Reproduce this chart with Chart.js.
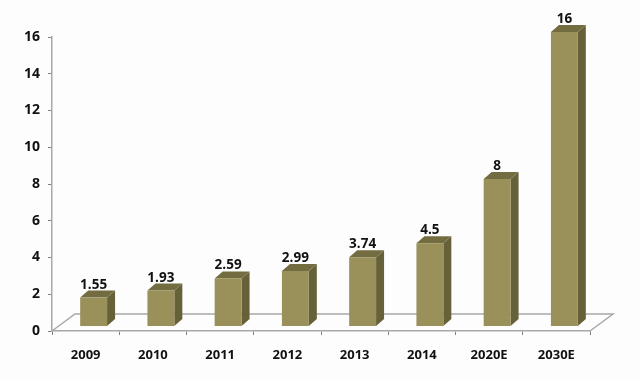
<!doctype html>
<html>

<head>
	<title>3D Bar Chart</title>
	<script src="https://cdn.jsdelivr.net/npm/chart.js@4"></script>
	<style>
		html, body { margin: 0; padding: 0; background: #fdfdfd; }
		#wrap { width: 640px; height: 379px; }
	</style>
</head>

<body>
	<div id="wrap"><canvas id="canvas"></canvas></div>
	<script>
		var categories = ['2009', '2010', '2011', '2012', '2013', '2014', '2020E', '2030E'];
		var values = [1.55, 1.93, 2.59, 2.99, 3.74, 4.5, 8, 16];
		var yTicks = [0, 2, 4, 6, 8, 10, 12, 14, 16];

		// bars stand on the floor, slightly above the value axis zero
		var floorLift = 0.27;
		var depthX = 8;
		var depthY = 7;

		var font = '"Open Sans", sans-serif';

		function poly(ctx, pts, fill) {
			ctx.beginPath();
			ctx.moveTo(pts[0][0], pts[0][1]);
			for (var i = 1; i < pts.length; i++) ctx.lineTo(pts[i][0], pts[i][1]);
			ctx.closePath();
			ctx.fillStyle = fill;
			ctx.fill();
		}

		var box3d = {
			id: 'box3d',
			afterDatasetsUpdate: function(chart) {
				// the front face sits left of the depth, so shift it inside the category
				chart.getDatasetMeta(0).data.forEach(function(bar) {
					bar.x += depthX;
				});
			},
			beforeDatasetsDraw: function(chart) {
				var ctx = chart.ctx;
				var area = chart.chartArea;
				var y0 = chart.scales.y.getPixelForValue(0);
				var backY = y0 - 17;
				var dx = 23;

				// floor
				ctx.save();
				ctx.strokeStyle = '#a8a8a8';
				ctx.lineWidth = 1.5;
				ctx.beginPath();
				ctx.moveTo(area.left, y0);
				ctx.lineTo(area.left + dx, backY);
				ctx.lineTo(area.right + dx, backY);
				ctx.lineTo(area.right, y0);
				ctx.stroke();

				// side and top faces
				chart.getDatasetMeta(0).data.forEach(function(bar) {
					var w = bar.width / 2;
					var l = bar.x - w;
					var r = bar.x + w;
					poly(ctx, [[r, bar.y], [r + depthX, bar.y - depthY], [r + depthX, bar.base - depthY], [r, bar.base]], '#67613a');
					poly(ctx, [[l, bar.y], [l + depthX, bar.y - depthY], [r + depthX, bar.y - depthY], [r, bar.y]], '#736c40');
				});
				ctx.restore();
			},
			afterDatasetsDraw: function(chart) {
				var ctx = chart.ctx;
				ctx.save();
				ctx.font = 'bold 13.5px ' + font;
				ctx.fillStyle = '#111111';
				ctx.textAlign = 'center';
				ctx.textBaseline = 'alphabetic';
				chart.getDatasetMeta(0).data.forEach(function(bar, i) {
					ctx.fillText(String(values[i]), bar.x, bar.y - depthY - 2);
				});
				ctx.restore();
			}
		};

		var config = {
			type: 'bar',
			data: {
				labels: categories,
				datasets: [{
					data: values.map(function(v) {
						return [floorLift, v + floorLift];
					}),
					backgroundColor: '#99905a',
					barPercentage: 0.4,
					categoryPercentage: 1,
					clip: false
				}]
			},
			plugins: [box3d],
			options: {
				responsive: true,
				maintainAspectRatio: false,
				animation: false,
				layout: {
					padding: { top: 37, right: 50, bottom: 0, left: 0 }
				},
				plugins: {
					legend: { display: false },
					title: { display: false },
					tooltip: { enabled: false }
				},
				scales: {
					x: {
						offset: true,
						afterFit: function(scale) { scale.height = 48; },
						border: { color: '#a8a8a8', width: 1.5 },
						grid: { drawOnChartArea: false, color: '#808080', tickLength: 4, offset: true },
						ticks: {
							color: '#111111',
							padding: 12,
							maxRotation: 0,
							font: { family: font, size: 13, weight: 'bold' }
						}
					},
					y: {
						min: 0,
						max: 16,
						afterFit: function(scale) { scale.width = 52; },
						afterBuildTicks: function(scale) {
							scale.ticks = yTicks.map(function(v) { return { value: v }; });
						},
						border: { color: '#a8a8a8', width: 1.5 },
						grid: { drawOnChartArea: false, color: '#808080', tickLength: 4 },
						ticks: {
							color: '#111111',
							padding: 8,
							font: { family: font, size: 14, weight: 'bold' }
						}
					}
				}
			}
		};

		window.myChart = new Chart(document.getElementById('canvas'), config);
	</script>
</body>

</html>
